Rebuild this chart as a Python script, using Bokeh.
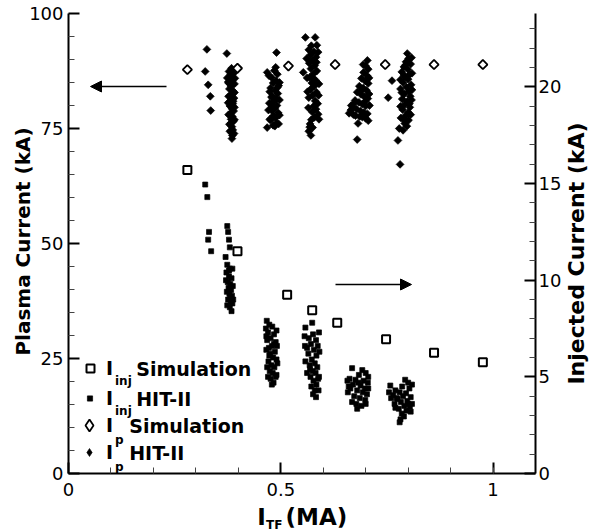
import math
from bokeh.plotting import figure
from bokeh.models import (Range1d, LinearAxis, FixedTicker, Legend, LegendItem,
                          Label, Arrow, NormalHead)
from bokeh.embed import file_html
from bokeh.resources import INLINE

# ---------------- data ----------------
# I_p simulation (left axis, kA) vs I_TF (MA)
ip_sim_x = [0.280, 0.398, 0.518, 0.628, 0.746, 0.861, 0.976]
ip_sim_y = [87.8, 88.1, 88.6, 88.9, 88.9, 88.9, 88.9]

# I_inj simulation (right axis, kA)
inj_sim_x = [0.280, 0.398, 0.515, 0.574, 0.633, 0.748, 0.861, 0.976]
inj_sim_y = [15.7, 11.5, 9.25, 8.45, 7.8, 6.95, 6.25, 5.75]

# I_p HIT-II experiment (left axis)
ip_hit_x = [
    0.326, 0.322, 0.329, 0.334, 0.335,
    0.373, 0.384, 0.378, 0.389, 0.381, 0.386, 0.376, 0.391, 0.383, 0.379, 0.388,
    0.385, 0.377, 0.390, 0.382, 0.387, 0.380, 0.385, 0.389, 0.381, 0.386, 0.383,
    0.388, 0.379, 0.385, 0.387, 0.384, 0.386, 0.385, 0.382, 0.388, 0.383,
    0.374, 0.391, 0.376, 0.391, 0.377, 0.391, 0.380, 0.390, 0.378, 0.392,
    0.490, 0.468, 0.485, 0.492, 0.478, 0.489, 0.482, 0.495, 0.476, 0.487, 0.493,
    0.480, 0.489, 0.484, 0.473, 0.491, 0.486, 0.479, 0.494, 0.483, 0.488, 0.476,
    0.490, 0.482, 0.468, 0.486, 0.480, 0.492,
    0.472, 0.497, 0.474, 0.497, 0.471, 0.497, 0.474, 0.495, 0.488, 0.478,
    0.558, 0.581, 0.572, 0.566, 0.578, 0.570, 0.583, 0.574, 0.567, 0.580, 0.553,
    0.571, 0.585, 0.576, 0.568, 0.582, 0.573, 0.579, 0.570, 0.584, 0.575, 0.566,
    0.581, 0.587, 0.578, 0.583, 0.574, 0.588, 0.579, 0.572, 0.569, 0.575, 0.566,
    0.571, 0.577, 0.584,
    0.561, 0.588, 0.562, 0.590, 0.563, 0.589, 0.565, 0.590, 0.585, 0.568,
    0.704, 0.700, 0.706, 0.695, 0.703, 0.690, 0.699, 0.706, 0.685, 0.694, 0.702,
    0.680, 0.689, 0.697, 0.705, 0.675, 0.684, 0.692, 0.700, 0.670, 0.679, 0.688,
    0.696, 0.704, 0.661, 0.676, 0.692, 0.682, 0.706, 0.680, 0.666, 0.698,
    0.694, 0.708, 0.688, 0.708, 0.672, 0.709, 0.665, 0.686, 0.700, 0.671,
    0.798, 0.801, 0.795, 0.806, 0.790, 0.799, 0.785, 0.804, 0.793, 0.762, 0.800,
    0.788, 0.807, 0.796, 0.782, 0.802, 0.791, 0.805, 0.753, 0.786, 0.798, 0.792,
    0.804, 0.787, 0.800, 0.795, 0.783, 0.801, 0.792, 0.797, 0.779, 0.788, 0.776,
    0.781, 0.790, 0.803,
    0.808, 0.794, 0.809, 0.782, 0.809, 0.785, 0.808, 0.782, 0.806, 0.790,
]
ip_hit_y = [
    92.2, 87.4, 84.5, 82.0, 78.9,
    91.3, 88.1, 87.4, 87.0, 86.3, 85.6, 85.1, 84.7, 84.2, 83.6, 83.1,
    82.5, 82.0, 81.6, 81.0, 80.4, 79.9, 79.3, 78.8, 78.2, 77.6, 77.0,
    76.5, 75.9, 75.4, 74.7, 74.1, 73.5, 72.8, 86.8, 80.9, 76.2,
    86.0, 82.8, 80.6, 79.6, 78.0, 76.9, 74.4, 73.9, 84.8, 85.9,
    91.5, 87.2, 87.6, 86.8, 86.1, 85.4, 84.9, 84.3, 83.8, 83.2, 82.6,
    82.0, 81.5, 80.9, 80.5, 80.0, 79.4, 78.9, 78.4, 77.8, 77.3, 76.8,
    76.2, 75.7, 75.2, 75.5, 79.8, 83.9,
    86.5, 85.0, 83.0, 81.2, 79.0, 77.9, 77.0, 76.0, 88.3, 81.8,
    94.8, 94.8, 93.0, 92.1, 91.7, 91.0, 90.5, 89.8, 89.2, 88.7, 87.2,
    88.0, 87.5, 86.8, 86.1, 85.5, 84.9, 84.2, 83.5, 82.9, 82.2, 81.7,
    81.0, 80.4, 79.9, 79.2, 78.6, 78.1, 77.4, 76.9, 76.0, 75.2, 74.4,
    73.5, 85.8, 89.4,
    90.2, 91.6, 86.0, 84.7, 83.0, 82.2, 79.5, 77.0, 93.1, 75.3,
    89.8, 88.6, 87.9, 87.2, 86.5, 85.9, 85.3, 84.8, 84.2, 83.8, 83.3,
    82.9, 82.4, 81.9, 81.5, 81.1, 80.7, 80.3, 79.9, 79.6, 79.2, 78.8,
    78.5, 78.2, 78.3, 77.8, 77.5, 76.1, 76.7, 72.6, 80.0, 80.8,
    88.9, 86.0, 83.0, 82.5, 80.4, 80.0, 79.0, 77.6, 77.2, 78.0,
    91.3, 90.2, 89.5, 89.0, 88.4, 87.9, 87.3, 86.8, 86.2, 85.4, 85.7,
    85.0, 84.5, 84.0, 83.6, 83.1, 82.5, 82.0, 81.7, 81.4, 80.9, 80.2,
    79.6, 79.1, 78.5, 77.9, 77.3, 76.8, 76.1, 75.5, 75.0, 74.6, 72.4,
    67.2, 86.6, 80.4,
    90.4, 88.8, 87.0, 85.6, 83.4, 82.8, 81.2, 79.8, 78.0, 76.9,
]

# I_inj HIT-II experiment (right axis)
inj_hit_x = [
    0.322, 0.327, 0.331, 0.329, 0.336,
    0.374, 0.376, 0.378, 0.380, 0.370, 0.374, 0.380, 0.372, 0.378, 0.384, 0.375,
    0.381, 0.377, 0.383, 0.379, 0.385, 0.376, 0.382, 0.386, 0.380, 0.384, 0.378,
    0.381,
    0.386, 0.371, 0.387, 0.373, 0.388, 0.374,
    0.467, 0.473, 0.465, 0.480, 0.470, 0.484, 0.476, 0.468, 0.488, 0.479, 0.472,
    0.486, 0.475, 0.482, 0.490, 0.471, 0.478, 0.485, 0.474, 0.481, 0.488, 0.476,
    0.483, 0.479, 0.473, 0.484,
    0.490, 0.466, 0.491, 0.466, 0.492, 0.468, 0.490, 0.470,
    0.574, 0.558, 0.576, 0.566, 0.583, 0.562, 0.571, 0.587, 0.578, 0.565, 0.584,
    0.573, 0.580, 0.568, 0.586, 0.575, 0.582, 0.570, 0.588, 0.577, 0.584, 0.572,
    0.580, 0.576, 0.583, 0.569,
    0.556, 0.590, 0.557, 0.591, 0.558, 0.590, 0.562, 0.589,
    0.668, 0.692, 0.700, 0.684, 0.662, 0.676, 0.695, 0.705, 0.670, 0.688, 0.698,
    0.660, 0.680, 0.693, 0.703, 0.673, 0.686, 0.699, 0.678, 0.690, 0.680, 0.683,
    0.657, 0.706, 0.658, 0.706, 0.668, 0.700, 0.664,
    0.793, 0.800, 0.758, 0.786, 0.803, 0.770, 0.780, 0.795, 0.765, 0.788, 0.806,
    0.775, 0.798, 0.783, 0.768, 0.791, 0.804, 0.778, 0.796, 0.785, 0.790, 0.782,
    0.780, 0.800,
    0.755, 0.809, 0.760, 0.809, 0.770, 0.806, 0.773,
]
inj_hit_y = [
    14.95, 14.3, 12.5, 12.1, 11.5,
    12.8, 12.5, 12.1, 11.7, 11.2, 10.8, 10.6, 10.4, 10.2, 10.1, 9.9,
    9.8, 9.6, 9.5, 9.3, 9.2, 9.0, 8.9, 8.8, 8.6, 8.4, 10.5,
    9.1,
    10.6, 10.0, 9.7, 9.4, 9.0, 8.7,
    7.9, 7.7, 7.5, 7.6, 7.3, 7.2, 7.0, 6.9, 6.8, 6.6, 6.5,
    6.3, 6.2, 6.0, 5.9, 5.8, 5.6, 5.5, 5.3, 5.2, 5.0, 4.9,
    4.7, 4.6, 6.1, 6.7,
    7.4, 7.1, 6.6, 6.4, 5.7, 5.5, 5.1, 5.0,
    7.8, 7.55, 7.2, 7.0, 6.9, 6.5, 6.7, 6.6, 6.4, 6.2, 6.1,
    5.9, 5.7, 5.6, 5.5, 5.3, 5.2, 5.0, 4.9, 4.8, 4.6, 4.5,
    4.3, 4.1, 3.95, 5.4,
    7.1, 7.3, 6.6, 6.3, 5.8, 5.0, 5.2, 4.3,
    5.45, 5.35, 5.2, 5.1, 4.9, 4.85, 4.8, 4.7, 4.6, 4.55, 4.4,
    4.5, 4.3, 4.2, 4.1, 4.0, 3.9, 3.8, 3.6, 3.5, 3.35, 4.7,
    4.8, 5.0, 4.2, 4.4, 3.7, 3.6, 4.4,
    4.85, 4.7, 4.55, 4.5, 4.4, 4.3, 4.2, 4.15, 4.05, 4.0, 3.95,
    3.85, 3.75, 3.7, 3.6, 3.5, 3.45, 3.35, 3.25, 3.1, 2.95, 2.8,
    2.65, 3.6,
    4.2, 4.6, 3.9, 3.6, 3.4, 3.2, 3.9,
]

# axes: extents and ticks
x_max = 1.1
left_max = 100
right_max = 23.8
x_ticks = [0, 0.5, 1]
x_tick_labels = ["0", "0.5", "1"]
x_minor = [0.1, 0.2, 0.3, 0.4, 0.6, 0.7, 0.8, 0.9, 1.0]
left_ticks = [0, 25, 50, 75, 100]
left_minor = [5, 10, 15, 20, 30, 35, 40, 45, 55, 60, 65, 70, 80, 85, 90, 95]
right_ticks = [0, 5, 10, 15, 20]
right_minor = [1, 2, 3, 4, 6, 7, 8, 9, 11, 12, 13, 14, 16, 17, 18, 19, 21, 22, 23]

FONT = "DejaVu Sans"

# ---------------- layout geometry (pixels of the page) ----------------
W, H = 593, 531
AX_L, AX_R, AX_T, AX_B = 68, 535, 13, 473        # where the axes lie
XS = (AX_R - AX_L) / x_max                        # px per MA
YS = (AX_B - AX_T) / left_max                     # px per kA (left)


def dx(px):
    return (px - AX_L) / XS


def dy(py):
    return (AX_B - py) / YS


p = figure(width=W, height=H, title=None,
           x_range=Range1d(dx(0), dx(W)), y_range=Range1d(dy(H), dy(0)),
           output_backend="svg", toolbar_location=None, min_border=0)
p.extra_y_ranges = {"right": Range1d(dy(H) * right_max / left_max, dy(0) * right_max / left_max)}
p.outline_line_color = None
p.xgrid.visible = False
p.ygrid.visible = False
p.background_fill_color = "white"
p.border_fill_color = "white"


def style_axis(ax):
    ax.axis_line_width = 2
    ax.axis_line_color = "black"
    ax.major_tick_in = 11
    ax.major_tick_out = 0
    ax.major_tick_line_width = 2
    ax.minor_tick_in = 6
    ax.minor_tick_out = 0
    ax.minor_tick_line_width = 1
    ax.minor_tick_line_color = "#444444"
    ax.major_label_text_font = FONT
    ax.major_label_text_font_size = "18px"
    ax.major_label_text_color = "black"
    ax.axis_label = None


xa = p.xaxis[0]
style_axis(xa)
xa.fixed_location = 0
xa.bounds = (0, x_max)
xa.ticker = FixedTicker(ticks=x_ticks, minor_ticks=x_minor)
xa.major_label_overrides = {float(t): s for t, s in zip(x_ticks, x_tick_labels)}
xa.major_label_standoff = 9

ya = p.yaxis[0]
style_axis(ya)
ya.fixed_location = 0
ya.bounds = (0, left_max)
ya.ticker = FixedTicker(ticks=left_ticks, minor_ticks=left_minor)
ya.major_label_standoff = 5

ra = LinearAxis(y_range_name="right")
style_axis(ra)
ra.fixed_location = x_max
ra.bounds = (0, right_max)
ra.ticker = FixedTicker(ticks=right_ticks, minor_ticks=right_minor)
ra.major_label_standoff = 3
p.add_layout(ra, "right")

# ---------------- data marks ----------------
r_inj_hit = p.scatter(inj_hit_x, inj_hit_y, marker="square", size=5, fill_color="black",
                      line_color="black", line_width=0.7, y_range_name="right")
r_ip_hit = p.scatter(ip_hit_x, ip_hit_y, marker="square", angle=math.pi / 4, size=5.5,
                     fill_color="black", line_color="black", line_width=0.7)
r_inj_sim = p.scatter(inj_sim_x, inj_sim_y, marker="square", size=8, fill_color="white",
                      line_color="black", line_width=2, y_range_name="right")
r_ip_sim = p.scatter(ip_sim_x, ip_sim_y, marker="square", angle=math.pi / 4, size=6.5,
                     fill_color="white", line_color="black", line_width=1.8)

# hidden twins of the I_p series, used only so that the legend keys are diamonds
k_ip_sim = p.scatter(ip_sim_x, ip_sim_y, marker="diamond", size=12, fill_color="white",
                     line_color="black", line_width=1.8, visible=False)
k_ip_hit = p.scatter(ip_hit_x, ip_hit_y, marker="diamond", size=8, fill_color="black",
                     line_color="black", line_width=0.6, visible=False)


# ---------------- legend ----------------
def add_legend(renderer, gw, key_x, row_y, label_x):
    vx = key_x - gw / 2
    lg = Legend(items=[LegendItem(label="I", renderers=[renderer])],
                location=(int(round(vx)), int(round(H - row_y - 15))),
                orientation="vertical", glyph_width=gw, glyph_height=30, label_height=30,
                label_standoff=int(round(label_x - vx - gw)), padding=0, margin=0, spacing=0,
                border_line_color=None, background_fill_alpha=0, click_policy="none",
                label_text_font=FONT, label_text_font_style="bold",
                label_text_font_size="19px", label_text_color="black")
    p.add_layout(lg)


rows_px = [368, 398, 425, 452]
add_legend(r_inj_sim, 20, 90, rows_px[0], 106)
add_legend(r_inj_hit, 13, 89.5, rows_px[1], 106)
add_legend(k_ip_sim, 30, 89, rows_px[2], 106)
add_legend(k_ip_hit, 20, 89, rows_px[3], 106)


def txt(x_px, y_px, text, size, align="left", baseline="alphabetic", angle=0.0):
    p.add_layout(Label(x=dx(x_px), y=dy(y_px), text=text, text_font=FONT,
                       text_font_style="bold", text_font_size=f"{size}px",
                       text_align=align, text_baseline=baseline, angle=angle,
                       text_color="black"))


sub_text = ["inj", "inj", "p", "p"]
sub_drop = [12.6, 12.6, 14.6, 14.6]
main_text = ["Simulation", "HIT-II", "Simulation", "HIT-II"]
main_x = [135.7, 135.7, 128.7, 128.7]
for ry, st, sd, mt, mx in zip(rows_px, sub_text, sub_drop, main_text, main_x):
    txt(114.5, ry + sd, st, 12)
    txt(mx, ry, mt, 19, baseline="middle")

# axis titles
txt(22, 241, "Plasma Current (kA)", 20, align="center", baseline="middle", angle=math.pi / 2)
txt(576, 253, "Injected Current (kA)", 22, align="center", baseline="middle", angle=math.pi / 2)
txt(256.8, 516, "I", 23)
txt(265.5, 524, "TF", 12)
txt(285, 516, "(MA)", 23)

# arrows pointing to the axes
p.add_layout(Arrow(end=NormalHead(size=11, fill_color="black", line_color="black"),
                   x_start=dx(166), y_start=dy(86), x_end=dx(90), y_end=dy(86),
                   line_width=1.5, line_color="black"))
p.add_layout(Arrow(end=NormalHead(size=11, fill_color="black", line_color="black"),
                   x_start=dx(335), y_start=dy(284), x_end=dx(411), y_end=dy(284),
                   line_width=1.5, line_color="black"))

open("out.html", "w").write(file_html(p, INLINE))
